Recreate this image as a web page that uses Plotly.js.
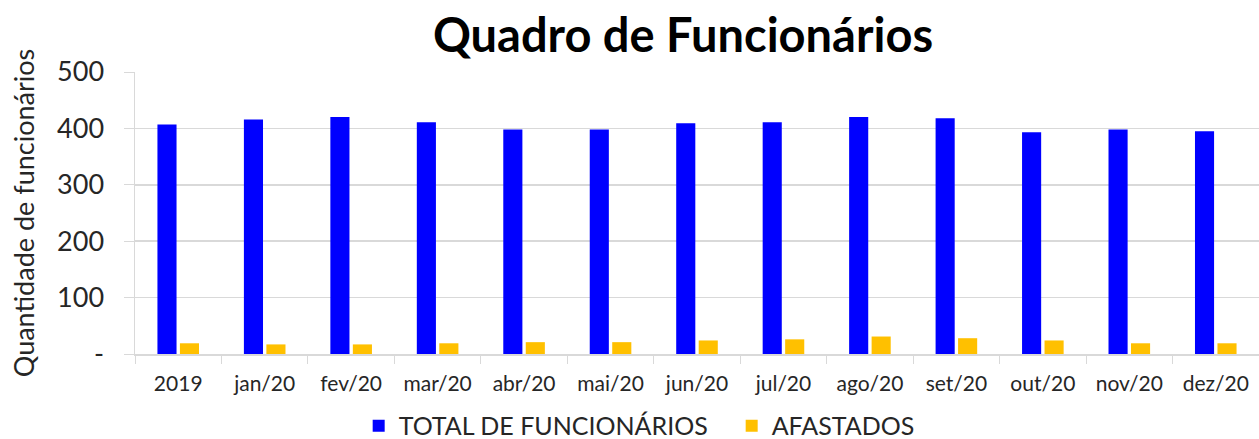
<!DOCTYPE html>
<html>
<head>
<meta charset="utf-8">
<script src="https://cdn.plot.ly/plotly-3.0.1.min.js"></script>
<style>
  html, body { margin: 0; padding: 0; background: #fff; }
  #chart { width: 1259px; height: 439px; }
</style>
</head>
<body>
<div id="chart"></div>
<script>
// Categories and values
const months = ['2019', 'jan/20', 'fev/20', 'mar/20', 'abr/20', 'mai/20', 'jun/20',
                'jul/20', 'ago/20', 'set/20', 'out/20', 'nov/20', 'dez/20'];
const totalFuncionarios = [407, 416, 420, 411, 398, 398, 409, 411, 420, 418, 393, 398, 395];
const afastados = [19, 17, 17, 19, 21, 21, 24, 26, 31, 28, 24, 19, 19];
const yTickVals = [0, 100, 200, 300, 400, 500];
const yTickText = ['-', '100', '200', '300', '400', '500'];

const font = 'Lato, "Open Sans", sans-serif';
const gridColor = '#d9d9d9';

const data = [
    {
        x: months,
        y: totalFuncionarios,
        type: 'bar',
        name: 'TOTAL DE FUNCIONÁRIOS',
        marker: { color: '#0000ff' },
        hoverinfo: 'x+y'
    },
    {
        x: months,
        y: afastados,
        type: 'bar',
        name: 'AFASTADOS',
        marker: { color: '#ffc000' },
        hoverinfo: 'x+y'
    }
];

const layout = {
    width: 1259,
    height: 439,
    margin: { t: 72, b: 85, l: 135, r: 0, autoexpand: false },
    paper_bgcolor: '#ffffff',
    plot_bgcolor: '#ffffff',
    font: { family: font, color: '#262626' },
    title: {
        text: '<b>Quadro de Funcionários</b>',
        font: { family: font, size: 47, color: '#000000' },
        x: 0.5425,
        xanchor: 'center',
        y: 0.92,
        yanchor: 'middle'
    },
    barmode: 'group',
    bargap: 0.48,
    bargroupgap: 0.15,
    showlegend: true,
    legend: {
        orientation: 'h',
        x: 0.199,
        xanchor: 'left',
        y: -0.255,
        yanchor: 'middle',
        entrywidth: 328,
        entrywidthmode: 'pixels',
        tracegroupgap: 0,
        font: { family: font, size: 25, color: '#262626' },
        itemclick: false
    },
    xaxis: {
        type: 'category',
        tickson: 'boundaries',
        ticks: 'outside',
        ticklen: 8,
        tickcolor: gridColor,
        ticklabelstandoff: 10,
        showline: true,
        linecolor: gridColor,
        linewidth: 1.5,
        showgrid: false,
        tickfont: { family: font, size: 21, color: '#262626' },
        fixedrange: true
    },
    yaxis: {
        range: [0, 500],
        tickvals: yTickVals,
        ticktext: yTickText,
        ticks: 'outside',
        ticklen: 10,
        tickcolor: gridColor,
        ticklabelstandoff: 14,
        showline: true,
        linecolor: gridColor,
        linewidth: 1.5,
        showgrid: true,
        gridcolor: gridColor,
        gridwidth: 1.5,
        zeroline: false,
        tickfont: { family: font, size: 27, color: '#262626' },
        title: {
            text: 'Quantidade de funcionários',
            font: { family: font, size: 27, color: '#262626' },
            standoff: 14
        },
        fixedrange: true
    }
};

Plotly.newPlot('chart', data, layout, { displayModeBar: false, staticPlot: true });
</script>
</body>
</html>
